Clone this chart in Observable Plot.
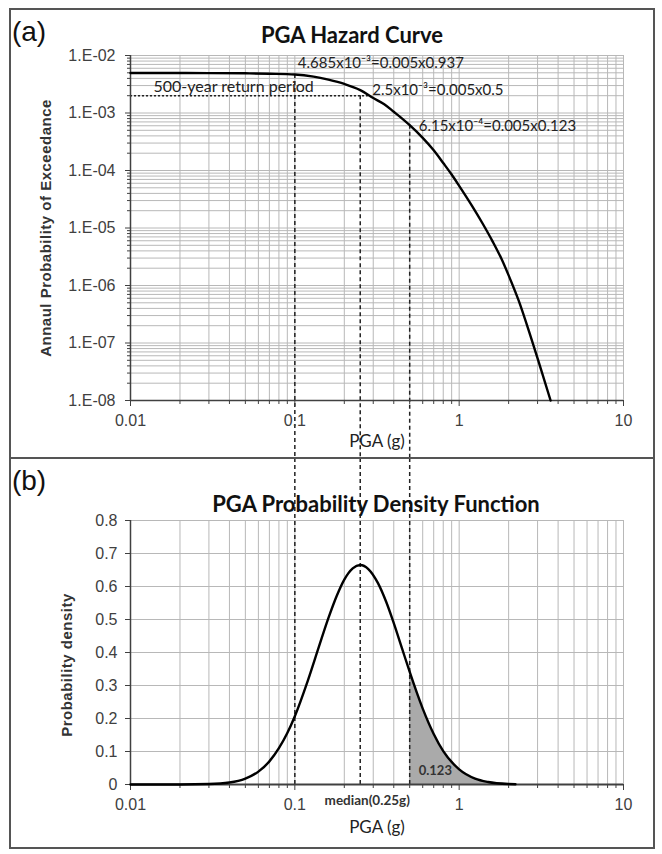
<!DOCTYPE html>
<html>
<head>
<meta charset="utf-8">
<script src="https://cdn.jsdelivr.net/npm/d3@7"></script>
<script src="https://cdn.jsdelivr.net/npm/@observablehq/plot@0.6"></script>
<style>
  html, body { margin: 0; padding: 0; background: #fff; }
  body { width: 662px; height: 854px; position: relative; overflow: hidden; font-family: Lato, "Open Sans", sans-serif; color: #222; }
  .abs { position: absolute; }
  .box { position: absolute; border: 2px solid #555; box-sizing: border-box; pointer-events: none; }
  .ctr { position: absolute; transform: translate(-50%, -50%); white-space: nowrap; }
  .title { font-family: Lato, "Open Sans", sans-serif; font-weight: bold; font-size: 22px; color: #111; }
  .panel { font-family: "Liberation Sans", Arial, sans-serif; font-size: 28px; color: #111; }
  .xlab { font-family: Lato, "Open Sans", sans-serif; font-size: 17px; color: #222; }
  .ylab { font-family: "Liberation Sans", Arial, sans-serif; font-weight: bold; font-size: 15px; letter-spacing: 0.5px; color: #333; transform: translate(-50%, -50%) rotate(-90deg); }
</style>
</head>
<body>
<div id="pa" class="abs" style="left:0;top:0"></div>
<div id="pb" class="abs" style="left:0;top:458px"></div>

<div class="box" style="left:9px;top:8px;width:646px;height:451px"></div>
<div class="box" style="left:9px;top:457px;width:646px;height:392px"></div>

<div class="ctr panel" style="left:29px;top:32px">(a)</div>
<div class="ctr title" style="left:352px;top:34px">PGA Hazard Curve</div>
<div class="ctr ylab" style="left:45px;top:228px">Annaul Probability of Exceedance</div>
<div class="ctr xlab" style="left:377px;top:440px">PGA (g)</div>

<div class="ctr panel" style="left:29px;top:481px">(b)</div>
<div class="ctr title" style="left:376px;top:503px">PGA Probability Density Function</div>
<div class="ctr ylab" style="left:66px;top:665px">Probability density</div>
<div class="ctr xlab" style="left:377px;top:826px">PGA (g)</div>

<script>
// ---------- data ----------
// Panel (a): hazard curve
const hazardPGA  = [0.01, 0.02, 0.03, 0.05, 0.07, 0.1, 0.13, 0.16, 0.2, 0.25, 0.3, 0.35, 0.4, 0.45, 0.5, 0.6, 0.7, 0.8, 0.9, 1.0, 1.2, 1.4, 1.6, 1.8, 2.0, 2.3, 2.7, 3.1, 3.6];
const hazardProb = [4.95e-3, 4.95e-3, 4.94e-3, 4.9e-3, 4.82e-3, 4.685e-3, 4.3e-3, 3.8e-3, 3.2e-3, 2.5e-3, 1.82e-3, 1.42e-3, 1.05e-3, 8.0e-4, 6.15e-4, 3.7e-4, 2.25e-4, 1.35e-4, 8.5e-5, 5.4e-5, 2.4e-5, 1.15e-5, 5.8e-6, 3.0e-6, 1.5e-6, 5.5e-7, 1.4e-7, 4.0e-8, 1.0e-8];

// Panel (b): probability density
const pdfPGA     = [0.01, 0.02, 0.03, 0.04, 0.05, 0.06, 0.07, 0.08, 0.09, 0.1, 0.12, 0.14, 0.16, 0.18, 0.2, 0.225, 0.25, 0.28, 0.32, 0.36, 0.4, 0.45, 0.5, 0.6, 0.7, 0.8, 1.0, 1.25, 1.5, 2.0, 2.2];
const pdfDensity = [0, 0.0001, 0.0013, 0.006, 0.018, 0.039, 0.07, 0.11, 0.156, 0.207, 0.315, 0.417, 0.504, 0.572, 0.621, 0.655, 0.665, 0.653, 0.611, 0.553, 0.489, 0.411, 0.341, 0.23, 0.153, 0.101, 0.046, 0.018, 0.0077, 0.0016, 0.0009];

// Marked PGA levels (dashed guides) and their exceedance values
const markPGA  = [0.1, 0.25, 0.5];
const markProb = [4.685e-3, 2.0e-3, 6.15e-4];
const shadeFrom = 0.5;
const shadeArea = "0.123";
const medianLabel = "median(0.25g)";
const medianPGA = 0.25;

// 500-year return period
const returnProb = 2e-3;
const returnPGA  = 0.28;
const returnLabel = "500-year return period";

// Annotations
const annoText = ["4.685x10\u207B\u00B3=0.005x0.937", "2.5x10\u207B\u00B3=0.005x0.5", "6.15x10\u207B\u2074=0.005x0.123"];
const annoPGA  = [0.1, 0.25, 0.5];
const annoProb = [4.685e-3, 2.5e-3, 6.15e-4];

// Axis ticks
const xTicks = [0.01, 0.1, 1, 10];
const xTickLabels = ["0.01", "0.1", "1", "10"];
const yTicksA = [1e-2, 1e-3, 1e-4, 1e-5, 1e-6, 1e-7, 1e-8];
const yTickLabelsA = ["1.E-02", "1.E-03", "1.E-04", "1.E-05", "1.E-06", "1.E-07", "1.E-08"];
const yTicksB = [0, 0.1, 0.2, 0.3, 0.4, 0.5, 0.6, 0.7, 0.8];
const yTickLabelsB = ["0", "0.1", "0.2", "0.3", "0.4", "0.5", "0.6", "0.7", "0.8"];

// ---------- derived tables ----------
const hazard = hazardPGA.map((x, i) => ({pga: x, p: hazardProb[i]}));
const pdf = pdfPGA.map((x, i) => ({pga: x, d: pdfDensity[i]}));
const shade = pdf.filter(d => d.pga >= shadeFrom);
const marksA = markPGA.map((x, i) => ({pga: x, top: markProb[i]}));

// log grid positions (1..9 per decade)
const xGrid = [];
for (let e = -2; e < 1; e++) for (let m = 1; m <= 9; m++) xGrid.push(+(m * Math.pow(10, e)).toPrecision(3));
xGrid.push(10);
const xMinor = xGrid.filter(v => !xTicks.includes(v));
const yGridA = [];
for (let e = -8; e < -2; e++) for (let m = 1; m <= 9; m++) yGridA.push(+(m * Math.pow(10, e)).toPrecision(3));
yGridA.push(1e-2);
const yMinorA = yGridA.filter(v => !yTicksA.includes(v));

const xLab = new Map(xTicks.map((v, i) => [v, xTickLabels[i]]));
const yLabA = new Map(yTicksA.map((v, i) => [v, yTickLabelsA[i]]));
const yLabB = new Map(yTicksB.map((v, i) => [v, yTickLabelsB[i]]));

const gridColor = "#b8b8b8";
const axisColor = "#404040";
const tickFont = "Liberation Sans, Arial, sans-serif";
const annoFont = "Lato, Open Sans, sans-serif";

// ---------- panel (a) ----------
const plotA = Plot.plot({
  width: 662, height: 458,
  marginTop: 55, marginBottom: 58, marginLeft: 130, marginRight: 39,
  style: {background: "transparent", fontFamily: tickFont},
  x: {type: "log", domain: [0.01, 10], label: null},
  y: {type: "log", domain: [1e-8, 1e-2], label: null},
  marks: [
    Plot.ruleY(yGridA, {stroke: gridColor, strokeWidth: 1}),
    Plot.ruleX(xGrid, {stroke: gridColor, strokeWidth: 1}),
    Plot.ruleY([returnProb], {x1: 0.01, x2: returnPGA, stroke: "#222", strokeWidth: 1.5, strokeDasharray: "2,2"}),
    Plot.ruleX(marksA, {x: "pga", y1: "top", y2: 1e-9, stroke: "#222", strokeWidth: 1.5, strokeDasharray: "4,3"}),
    Plot.ruleX([0.01], {stroke: axisColor, strokeWidth: 1.5}),
    Plot.ruleY([1e-8], {stroke: axisColor, strokeWidth: 1.5}),
    Plot.axisY(yMinorA, {tickSize: 3, tickFormat: () => "", color: axisColor, label: null}),
    Plot.axisY(yTicksA, {tickSize: 5, tickPadding: 10, tickFormat: d => yLabA.get(d), color: axisColor, fontSize: 16, label: null}),
    Plot.axisX(xMinor, {tickSize: 4, tickFormat: () => "", color: axisColor, label: null}),
    Plot.axisX(xTicks, {tickSize: 6, tickPadding: 8, tickFormat: d => xLab.get(d), color: axisColor, fontSize: 16, label: null}),
    Plot.line(hazard, {x: "pga", y: "p", stroke: "#000", strokeWidth: 2.4, curve: "monotone-x"}),
    Plot.text([returnLabel], {x: 0.01, y: returnProb, text: d => d, textAnchor: "start", dx: 23, dy: -9, fontSize: 16, fontFamily: annoFont, fill: "#222"}),
    Plot.text([0], {x: annoPGA[0], y: annoProb[0], text: () => annoText[0], textAnchor: "start", dx: 3, dy: -11, fontSize: 15, fontFamily: annoFont, fill: "#222"}),
    Plot.text([1], {x: annoPGA[1], y: annoProb[1], text: () => annoText[1], textAnchor: "start", dx: 12, dy: 0, fontSize: 15, fontFamily: annoFont, fill: "#222"}),
    Plot.text([2], {x: annoPGA[2], y: annoProb[2], text: () => annoText[2], textAnchor: "start", dx: 9, dy: 1, fontSize: 15, fontFamily: annoFont, fill: "#222"})
  ]
});
document.getElementById("pa").append(plotA);

// ---------- panel (b) ----------
const plotB = Plot.plot({
  width: 662, height: 396,
  marginTop: 62, marginBottom: 70, marginLeft: 130, marginRight: 39,
  style: {background: "transparent", fontFamily: tickFont},
  x: {type: "log", domain: [0.01, 10], label: null},
  y: {domain: [0, 0.8], label: null},
  marks: [
    Plot.ruleY(yTicksB, {stroke: gridColor, strokeWidth: 1}),
    Plot.ruleX(xGrid, {stroke: gridColor, strokeWidth: 1}),
    Plot.areaY(shade, {x: "pga", y: "d", fill: "#aaaaaa", curve: "monotone-x"}),
    Plot.ruleX(markPGA, {y1: 0, y2: 0.99, stroke: "#222", strokeWidth: 1.5, strokeDasharray: "4,3"}),
    Plot.ruleX([0.01], {stroke: axisColor, strokeWidth: 1.5}),
    Plot.ruleY([0], {stroke: axisColor, strokeWidth: 2}),
    Plot.axisY(yTicksB, {tickSize: 5, tickPadding: 8, tickFormat: d => yLabB.get(d), color: axisColor, fontSize: 16, label: null}),
    Plot.axisX(xMinor, {tickSize: 4, tickFormat: () => "", color: axisColor, label: null}),
    Plot.axisX(xTicks, {tickSize: 6, tickPadding: 8, tickFormat: d => xLab.get(d), color: axisColor, fontSize: 16, label: null}),
    Plot.line(pdf, {x: "pga", y: "d", stroke: "#000", strokeWidth: 2.4, curve: "monotone-x"}),
    Plot.text([shadeArea], {x: shadeFrom, y: 0, text: d => d, textAnchor: "start", dx: 9, dy: -14, fontSize: 13, fontWeight: "bold", fontFamily: annoFont, fill: "#333"}),
    Plot.text([medianLabel], {x: medianPGA, y: 0, text: d => d, textAnchor: "middle", dx: 7, dy: 16, fontSize: 13.5, fontWeight: "bold", fontFamily: annoFont, fill: "#333"})
  ]
});
document.getElementById("pb").append(plotB);
</script>
</body>
</html>
